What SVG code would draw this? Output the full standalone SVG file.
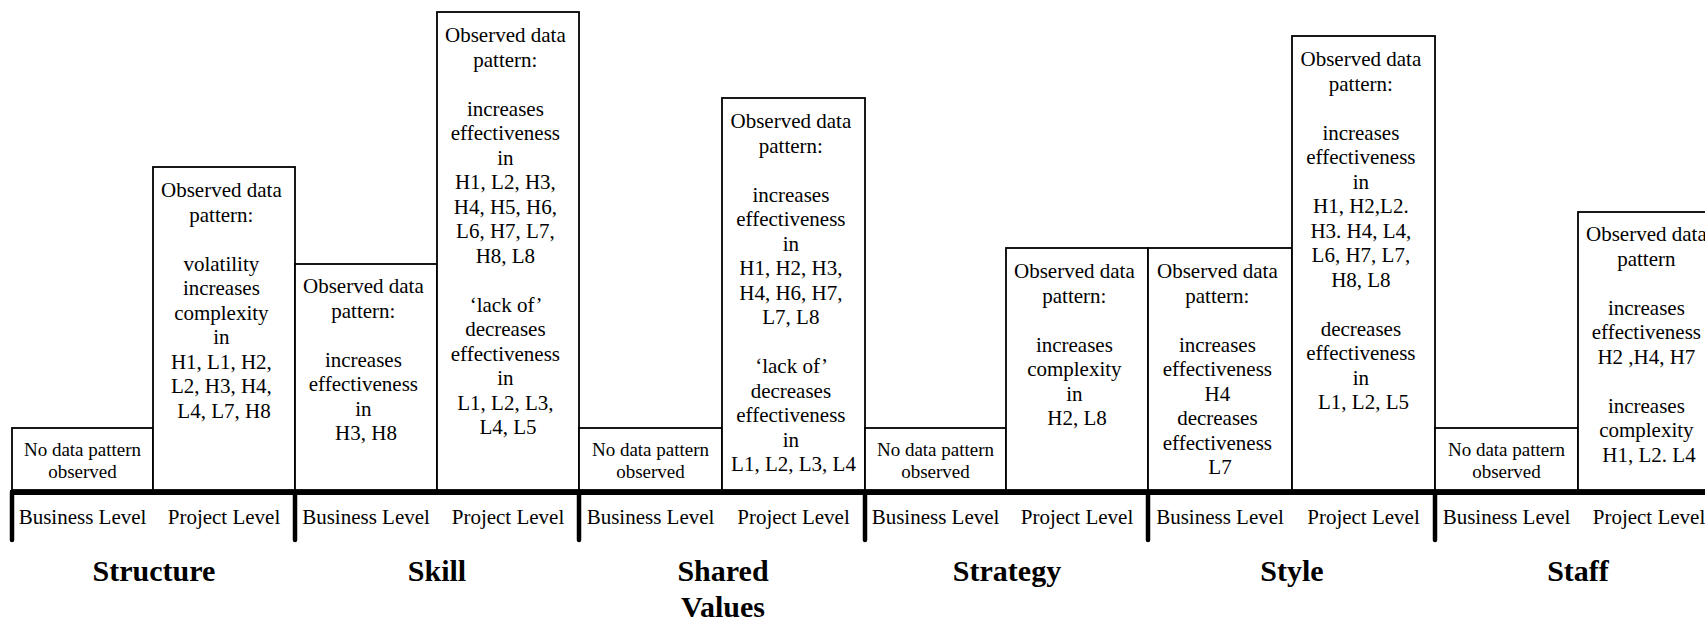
<svg xmlns="http://www.w3.org/2000/svg" width="1705" height="622" viewBox="0 0 1705 622">
  <style>
    .box { fill: #fff; stroke: #000; stroke-width: 1.8; }
    .t { font-family: "Liberation Serif", "Times New Roman", serif; font-size: 21px; fill: #000; text-anchor: middle; }
    .nd { font-family: "Liberation Serif", "Times New Roman", serif; font-size: 19px; fill: #000; text-anchor: middle; }
    .lvl { font-family: "Liberation Serif", "Times New Roman", serif; font-size: 21px; fill: #000; text-anchor: middle; }
    .cat { font-family: "Liberation Serif", "Times New Roman", serif; font-size: 30px; font-weight: bold; fill: #000; text-anchor: middle; }
    .axis { stroke: #000; stroke-width: 5; fill: none; }
    .tick { stroke: #000; stroke-width: 4.5; fill: none; stroke-linecap: round; }
  </style>
  <rect width="1705" height="622" fill="#fff"/>

  <!-- Structure -->
  <g id="structure">
    <rect class="box" x="12" y="428" width="141" height="62"/>
    <text class="nd" x="82.5" y="456"><tspan x="82.5">No data pattern</tspan><tspan x="82.5" dy="22">observed</tspan></text>
    <rect class="box" x="153" y="167" width="142" height="323"/>
    <text class="t" x="224" y="197">
      <tspan x="224">Observed data</tspan>
      <tspan x="224" dy="24.5">pattern:</tspan>
      <tspan x="224" dy="49">volatility</tspan>
      <tspan x="224" dy="24.5">increases</tspan>
      <tspan x="224" dy="24.5">complexity</tspan>
      <tspan x="224" dy="24.5">in</tspan>
      <tspan x="224" dy="24.5">H1, L1, H2,</tspan>
      <tspan x="224" dy="24.5">L2, H3, H4,</tspan>
      <tspan x="224" dy="24.5">L4, L7, H8</tspan>
    </text>
    <text class="lvl" x="82.5" y="524">Business Level</text>
    <text class="lvl" x="224" y="524">Project Level</text>
    <text class="cat" x="154" y="581">Structure</text>
  </g>

  <!-- Skill -->
  <g id="skill">
    <rect class="box" x="295" y="264" width="142" height="226"/>
    <text class="t" x="366" y="293">
      <tspan x="366">Observed data</tspan>
      <tspan x="366" dy="24.5">pattern:</tspan>
      <tspan x="366" dy="49">increases</tspan>
      <tspan x="366" dy="24.5">effectiveness</tspan>
      <tspan x="366" dy="24.5">in</tspan>
      <tspan x="366" dy="24.5">H3, H8</tspan>
    </text>
    <rect class="box" x="437" y="12" width="142" height="478"/>
    <text class="t" x="508" y="42">
      <tspan x="508">Observed data</tspan>
      <tspan x="508" dy="24.5">pattern:</tspan>
      <tspan x="508" dy="49">increases</tspan>
      <tspan x="508" dy="24.5">effectiveness</tspan>
      <tspan x="508" dy="24.5">in</tspan>
      <tspan x="508" dy="24.5">H1, L2, H3,</tspan>
      <tspan x="508" dy="24.5">H4, H5, H6,</tspan>
      <tspan x="508" dy="24.5">L6, H7, L7,</tspan>
      <tspan x="508" dy="24.5">H8, L8</tspan>
      <tspan x="508" dy="49">‘lack of’</tspan>
      <tspan x="508" dy="24.5">decreases</tspan>
      <tspan x="508" dy="24.5">effectiveness</tspan>
      <tspan x="508" dy="24.5">in</tspan>
      <tspan x="508" dy="24.5">L1, L2, L3,</tspan>
      <tspan x="508" dy="24.5">L4, L5</tspan>
    </text>
    <text class="lvl" x="366" y="524">Business Level</text>
    <text class="lvl" x="508" y="524">Project Level</text>
    <text class="cat" x="437" y="581">Skill</text>
  </g>

  <!-- Shared Values -->
  <g id="shared-values">
    <rect class="box" x="579" y="428" width="143" height="62"/>
    <text class="nd" x="650.5" y="456"><tspan x="650.5">No data pattern</tspan><tspan x="650.5" dy="22">observed</tspan></text>
    <rect class="box" x="722" y="98" width="143" height="392"/>
    <text class="t" x="793.5" y="128">
      <tspan x="793.5">Observed data</tspan>
      <tspan x="793.5" dy="24.5">pattern:</tspan>
      <tspan x="793.5" dy="49">increases</tspan>
      <tspan x="793.5" dy="24.5">effectiveness</tspan>
      <tspan x="793.5" dy="24.5">in</tspan>
      <tspan x="793.5" dy="24.5">H1, H2, H3,</tspan>
      <tspan x="793.5" dy="24.5">H4, H6, H7,</tspan>
      <tspan x="793.5" dy="24.5">L7, L8</tspan>
      <tspan x="793.5" dy="49">‘lack of’</tspan>
      <tspan x="793.5" dy="24.5">decreases</tspan>
      <tspan x="793.5" dy="24.5">effectiveness</tspan>
      <tspan x="793.5" dy="24.5">in</tspan>
      <tspan x="793.5" dy="24.5">L1, L2, L3, L4</tspan>
    </text>
    <text class="lvl" x="650.5" y="524">Business Level</text>
    <text class="lvl" x="793.5" y="524">Project Level</text>
    <text class="cat" x="723" y="581"><tspan x="723">Shared</tspan><tspan x="723" dy="36">Values</tspan></text>
  </g>

  <!-- Strategy -->
  <g id="strategy">
    <rect class="box" x="865" y="428" width="141" height="62"/>
    <text class="nd" x="935.5" y="456"><tspan x="935.5">No data pattern</tspan><tspan x="935.5" dy="22">observed</tspan></text>
    <rect class="box" x="1006" y="248" width="142" height="242"/>
    <text class="t" x="1077" y="278">
      <tspan x="1077">Observed data</tspan>
      <tspan x="1077" dy="24.5">pattern:</tspan>
      <tspan x="1077" dy="49">increases</tspan>
      <tspan x="1077" dy="24.5">complexity</tspan>
      <tspan x="1077" dy="24.5">in</tspan>
      <tspan x="1077" dy="24.5">H2, L8</tspan>
    </text>
    <text class="lvl" x="935.5" y="524">Business Level</text>
    <text class="lvl" x="1077" y="524">Project Level</text>
    <text class="cat" x="1007" y="581">Strategy</text>
  </g>

  <!-- Style -->
  <g id="style">
    <rect class="box" x="1148" y="248" width="144" height="242"/>
    <text class="t" x="1220" y="278">
      <tspan x="1220">Observed data</tspan>
      <tspan x="1220" dy="24.5">pattern:</tspan>
      <tspan x="1220" dy="49">increases</tspan>
      <tspan x="1220" dy="24.5">effectiveness</tspan>
      <tspan x="1220" dy="24.5">H4</tspan>
      <tspan x="1220" dy="24.5">decreases</tspan>
      <tspan x="1220" dy="24.5">effectiveness</tspan>
      <tspan x="1220" dy="24.5">L7</tspan>
    </text>
    <rect class="box" x="1292" y="36" width="143" height="454"/>
    <text class="t" x="1363.5" y="66">
      <tspan x="1363.5">Observed data</tspan>
      <tspan x="1363.5" dy="24.5">pattern:</tspan>
      <tspan x="1363.5" dy="49">increases</tspan>
      <tspan x="1363.5" dy="24.5">effectiveness</tspan>
      <tspan x="1363.5" dy="24.5">in</tspan>
      <tspan x="1363.5" dy="24.5">H1, H2,L2.</tspan>
      <tspan x="1363.5" dy="24.5">H3. H4, L4,</tspan>
      <tspan x="1363.5" dy="24.5">L6, H7, L7,</tspan>
      <tspan x="1363.5" dy="24.5">H8, L8</tspan>
      <tspan x="1363.5" dy="49">decreases</tspan>
      <tspan x="1363.5" dy="24.5">effectiveness</tspan>
      <tspan x="1363.5" dy="24.5">in</tspan>
      <tspan x="1363.5" dy="24.5">L1, L2, L5</tspan>
    </text>
    <text class="lvl" x="1220" y="524">Business Level</text>
    <text class="lvl" x="1363.5" y="524">Project Level</text>
    <text class="cat" x="1292" y="581">Style</text>
  </g>

  <!-- Staff -->
  <g id="staff">
    <rect class="box" x="1435" y="428" width="143" height="62"/>
    <text class="nd" x="1506.5" y="456"><tspan x="1506.5">No data pattern</tspan><tspan x="1506.5" dy="22">observed</tspan></text>
    <rect class="box" x="1578" y="212" width="142" height="278"/>
    <text class="t" x="1649" y="241">
      <tspan x="1649">Observed data</tspan>
      <tspan x="1649" dy="24.5">pattern</tspan>
      <tspan x="1649" dy="49">increases</tspan>
      <tspan x="1649" dy="24.5">effectiveness</tspan>
      <tspan x="1649" dy="24.5">H2 ,H4, H7</tspan>
      <tspan x="1649" dy="49">increases</tspan>
      <tspan x="1649" dy="24.5">complexity</tspan>
      <tspan x="1649" dy="24.5">H1, L2. L4</tspan>
    </text>
    <text class="lvl" x="1506.5" y="524">Business Level</text>
    <text class="lvl" x="1649" y="524">Project Level</text>
    <text class="cat" x="1578" y="581">Staff</text>
  </g>

  <!-- baseline axis and group dividers -->
  <g id="connectors">
    <line class="axis" x1="10" y1="492.5" x2="1705" y2="492.5"/>
    <line class="tick" x1="12" y1="492" x2="12" y2="540"/>
    <line class="tick" x1="295" y1="492" x2="295" y2="540"/>
    <line class="tick" x1="579" y1="492" x2="579" y2="540"/>
    <line class="tick" x1="865" y1="492" x2="865" y2="540"/>
    <line class="tick" x1="1148" y1="492" x2="1148" y2="540"/>
    <line class="tick" x1="1435" y1="492" x2="1435" y2="540"/>
  </g>
</svg>
